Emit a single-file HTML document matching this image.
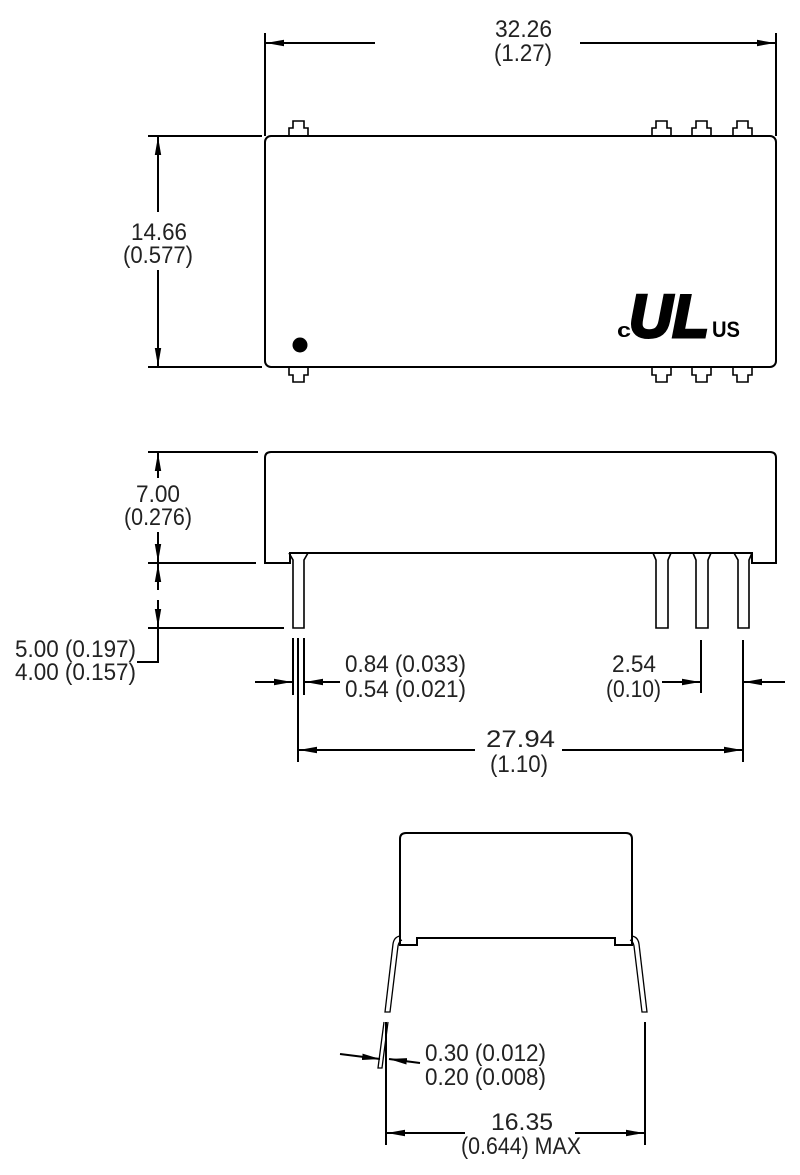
<!DOCTYPE html>
<html><head><meta charset="utf-8"><style>
html,body{margin:0;padding:0;background:#fff}
svg{display:block}
text{font-family:"Liberation Sans",sans-serif;fill:#222}
</style></head><body>
<svg width="800" height="1175" viewBox="0 0 800 1175" xmlns="http://www.w3.org/2000/svg">
<defs>
<marker id="a" viewBox="0 0 18 8" refX="18" refY="4" markerWidth="18" markerHeight="8" markerUnits="userSpaceOnUse" preserveAspectRatio="none" orient="auto"><path d="M0,0.8 L18,4 L0,7.2 Z" fill="#000"/></marker>
</defs>
<g stroke="#000" stroke-width="2" fill="none">
<!-- TOP VIEW -->
<rect x="265" y="136" width="511" height="231" rx="6"/>
<line x1="265" y1="33" x2="265" y2="136"/>
<line x1="776" y1="33" x2="776" y2="136"/>
<line x1="375" y1="43" x2="266" y2="43" marker-end="url(#a)"/>
<line x1="580" y1="43" x2="775" y2="43" marker-end="url(#a)"/>
<line x1="148" y1="136" x2="262" y2="136"/>
<line x1="148" y1="367" x2="262" y2="367"/>
<line x1="158" y1="212" x2="158" y2="137" marker-end="url(#a)"/>
<line x1="158" y1="270" x2="158" y2="366" marker-end="url(#a)"/>
<g stroke-width="1.6">
<path d="M289,136 V128 H293 V121 H304 V128 H308 V136"/>
<path d="M652,136 V128 H656 V121 H667 V128 H671 V136"/>
<path d="M692,136 V128 H696 V121 H707 V128 H711 V136"/>
<path d="M733,136 V128 H737 V121 H748 V128 H752 V136"/>
<path d="M289,367 V375 H293 V382 H304 V375 H308 V367"/>
<path d="M652,367 V375 H656 V382 H667 V375 H671 V367"/>
<path d="M692,367 V375 H696 V382 H707 V375 H711 V367"/>
<path d="M733,367 V375 H737 V382 H748 V375 H752 V367"/>
</g>
<!-- SIDE VIEW -->
<path d="M265,563 V458 Q265,452 271,452 H770 Q776,452 776,458 V563 H752 V553 H290 V563 Z"/>
<g stroke-width="1.6">
<path d="M289,553 L293,560 V628 H304 V560 L308,553"/>
<path d="M653,553 L656,560 V628 H668 V560 L671,553"/>
<path d="M693,553 L696,560 V628 H708 V560 L711,553"/>
<path d="M734,553 L738,560 V628 H749 V560 L752,553"/>
</g>
<line x1="148" y1="452" x2="258" y2="452"/>
<line x1="148" y1="563" x2="256" y2="563"/>
<line x1="148" y1="628" x2="284" y2="628"/>
<line x1="158" y1="478" x2="158" y2="453" marker-end="url(#a)"/>
<line x1="158" y1="532" x2="158" y2="562" marker-end="url(#a)"/>
<line x1="158" y1="590" x2="158" y2="564" marker-end="url(#a)"/>
<line x1="158" y1="600" x2="158" y2="627" marker-end="url(#a)"/>
<polyline points="158,628 158,662 137,662"/>
<line x1="293" y1="638" x2="293" y2="695"/>
<line x1="298" y1="638" x2="298" y2="762"/>
<line x1="304" y1="638" x2="304" y2="695"/>
<line x1="255" y1="682" x2="292" y2="682" marker-end="url(#a)"/>
<line x1="340" y1="682" x2="305" y2="682" marker-end="url(#a)"/>
<line x1="701" y1="640" x2="701" y2="693"/>
<line x1="743" y1="640" x2="743" y2="762"/>
<line x1="662" y1="682" x2="700" y2="682" marker-end="url(#a)"/>
<line x1="785" y1="682" x2="744" y2="682" marker-end="url(#a)"/>
<line x1="475" y1="750" x2="299" y2="750" marker-end="url(#a)"/>
<line x1="562" y1="750" x2="742" y2="750" marker-end="url(#a)"/>
<!-- END VIEW -->
<path d="M400,945 V839 Q400,833 406,833 H626 Q632,833 632,839 V945 H615 V938 H417 V945 Z"/>
<g stroke-width="1.3">
<path d="M400,936 Q394,937 393,944 L385,1012 H390 L398,946 Q399,941 402,940"/>
<path d="M632,936 Q638,937 639,944 L647,1012 H642 L634,946 Q633,941 630,940"/>
<path d="M384,1022 L378,1068 H382 L388,1022"/>
</g>
<line x1="386" y1="1022" x2="386" y2="1145"/>
<line x1="645" y1="1022" x2="645" y2="1145"/>
<line x1="340" y1="1054" x2="380" y2="1059" marker-end="url(#a)"/>
<line x1="420" y1="1063" x2="389" y2="1059" marker-end="url(#a)"/>
<line x1="465" y1="1133" x2="387" y2="1133" marker-end="url(#a)"/>
<line x1="575" y1="1133" x2="644" y2="1133" marker-end="url(#a)"/>
</g>
<circle cx="300" cy="345" r="7.5" fill="#000"/>
<!-- UL logo -->
<text x="617" y="337" font-size="20" font-weight="bold" style="fill:#000" textLength="14" lengthAdjust="spacingAndGlyphs">c</text>
<text x="629" y="337" font-size="60" font-weight="bold" font-style="italic" style="fill:#000;stroke:#000;stroke-width:3" textLength="80" lengthAdjust="spacingAndGlyphs">UL</text>
<text x="712" y="337" font-size="22" font-weight="bold" style="fill:#000" textLength="28" lengthAdjust="spacingAndGlyphs">US</text>
<g font-size="24" text-anchor="start">
<text x="495" y="37" textLength="57" lengthAdjust="spacingAndGlyphs">32.26</text>
<text x="494" y="61" textLength="58" lengthAdjust="spacingAndGlyphs">(1.27)</text>
<text x="131" y="240" textLength="56" lengthAdjust="spacingAndGlyphs">14.66</text>
<text x="123" y="263" textLength="70" lengthAdjust="spacingAndGlyphs">(0.577)</text>
<text x="136" y="502" textLength="44" lengthAdjust="spacingAndGlyphs">7.00</text>
<text x="124" y="525" textLength="68" lengthAdjust="spacingAndGlyphs">(0.276)</text>
<text x="15" y="657" textLength="121" lengthAdjust="spacingAndGlyphs">5.00 (0.197)</text>
<text x="15" y="680" textLength="121" lengthAdjust="spacingAndGlyphs">4.00 (0.157)</text>
<text x="345" y="672" textLength="121" lengthAdjust="spacingAndGlyphs">0.84 (0.033)</text>
<text x="345" y="697" textLength="121" lengthAdjust="spacingAndGlyphs">0.54 (0.021)</text>
<text x="612" y="672" textLength="44" lengthAdjust="spacingAndGlyphs">2.54</text>
<text x="606" y="697" textLength="55" lengthAdjust="spacingAndGlyphs">(0.10)</text>
<text x="486" y="747" textLength="69" lengthAdjust="spacingAndGlyphs">27.94</text>
<text x="490" y="772" textLength="58" lengthAdjust="spacingAndGlyphs">(1.10)</text>
<text x="425" y="1061" textLength="121" lengthAdjust="spacingAndGlyphs">0.30 (0.012)</text>
<text x="425" y="1085" textLength="121" lengthAdjust="spacingAndGlyphs">0.20 (0.008)</text>
<text x="491" y="1130" textLength="62" lengthAdjust="spacingAndGlyphs">16.35</text>
<text x="461" y="1154" textLength="120" lengthAdjust="spacingAndGlyphs">(0.644) MAX</text>
</g>
</svg>
</body></html>
